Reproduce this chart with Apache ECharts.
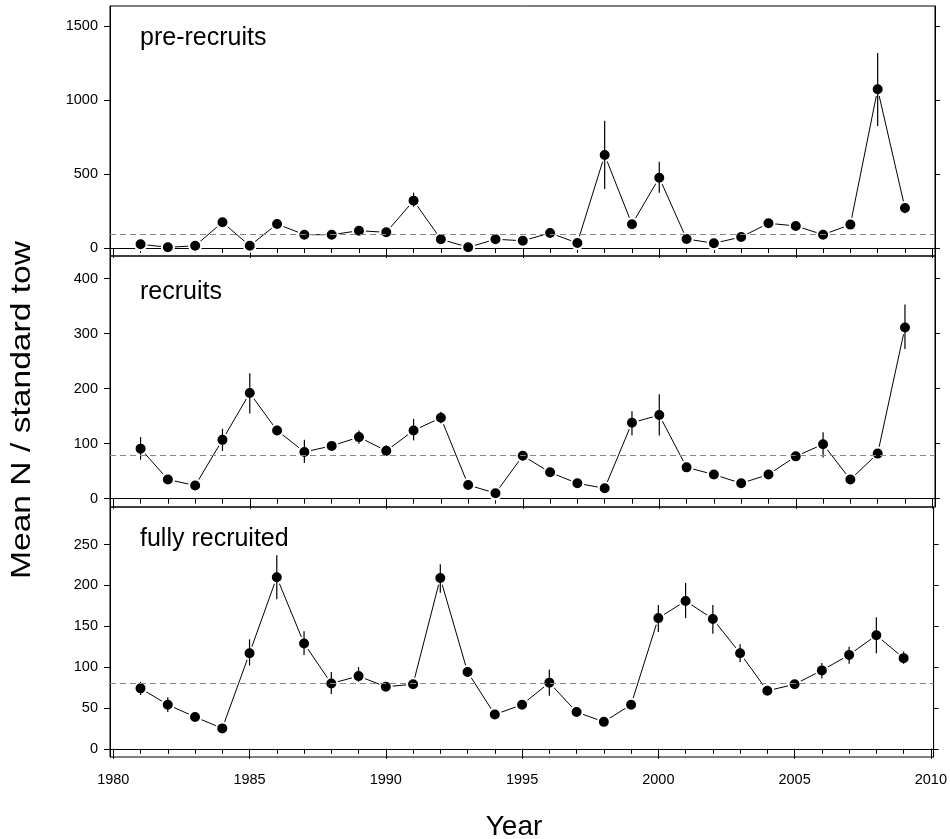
<!DOCTYPE html>
<html>
<head>
<meta charset="utf-8">
<script src="https://cdn.jsdelivr.net/npm/echarts@6/dist/echarts.min.js"></script>
<style>
  html, body { margin: 0; padding: 0; background: #fff; }
  #chart { width: 950px; height: 839px; }
</style>
</head>
<body>
<div id="chart"></div>
<script>
// survey years
const years = [1981, 1982, 1983, 1984, 1985, 1986, 1987, 1988, 1989, 1990,
  1991, 1992, 1993, 1994, 1995, 1996, 1997, 1998, 1999, 2000,
  2001, 2002, 2003, 2004, 2005, 2006, 2007, 2008, 2009];

// pre-recruits
const preMean = [25, 5, 15, 174, 15, 162, 90, 90, 117, 106, 320, 59, 5, 59, 49, 101, 34, 628, 160, 475,
  61, 32, 74, 167, 149, 90, 158, 1072, 270];
const preLow = [10, 0, 2, 154, 2, 142, 72, 74, 100, 90, 279, 44, 0, 44, 34, 85, 20, 399, 135, 374,
  46, 18, 58, 150, 132, 74, 140, 824, 234];
const preHigh = [40, 18, 30, 196, 30, 182, 108, 106, 134, 124, 374, 74, 18, 74, 64, 118, 48, 860, 185, 583,
  76, 46, 90, 184, 166, 106, 176, 1318, 297];
const preRef = 90;

// recruits
const recMean = [91, 35, 24, 107, 192, 124, 85, 96, 112, 87, 124, 147, 25, 10, 78, 48, 28, 19, 138, 152,
  57, 44, 28, 44, 77, 99, 35, 82, 311];
const recLow = [71, 30, 20, 87, 155, 115, 65, 88, 100, 78, 106, 137, 21, 7, 70, 43, 24, 16, 115, 115,
  52, 40, 24, 40, 71, 75, 31, 77, 272];
const recHigh = [112, 40, 28, 127, 228, 133, 107, 104, 124, 97, 145, 158, 29, 13, 86, 53, 32, 22, 159, 190,
  62, 48, 32, 48, 83, 121, 39, 87, 353];
const recRef = 79;

// fully recruited
const fullMean = [74, 54, 39, 25, 117, 210, 129, 80, 89, 76, 79, 209, 94, 42, 54, 81, 45, 33, 54, 160,
  181, 159, 117, 71, 79, 96, 115, 139, 111];
const fullLow = [66, 45, 36, 22, 102, 183, 115, 67, 82, 73, 76, 191, 88, 39, 50, 65, 42, 30, 50, 143,
  160, 141, 106, 67, 75, 86, 104, 117, 104];
const fullHigh = [82, 63, 42, 28, 134, 237, 144, 94, 100, 79, 82, 226, 100, 45, 58, 97, 48, 36, 58, 176,
  203, 176, 128, 75, 83, 105, 125, 161, 119];
const fullRef = 80;

const panelNames = ['pre-recruits', 'recruits', 'fully recruited'];
const yTicks = [
  [0, 500, 1000, 1500],
  [0, 100, 200, 300, 400],
  [0, 50, 100, 150, 200, 250]
];
const majorYears = [1980, 1985, 1990, 1995, 2000, 2005, 2010];
const allYears = [];
for (let y = 1980; y <= 2010; y++) allYears.push(y);

const FONT = 'Liberation Sans, Arial, Helvetica, sans-serif';

const panels = [
  { mean: preMean, low: preLow, high: preHigh, ref: preRef, min: -54, max: 1635, top: 6, height: 250, labelY: 38 },
  { mean: recMean, low: recLow, high: recHigh, ref: recRef, min: -15, max: 441, top: 256, height: 251, labelY: 292 },
  { mean: fullMean, low: fullLow, high: fullHigh, ref: fullRef, min: -10, max: 296, top: 507, height: 250, labelY: 539 }
];

const chart = echarts.init(document.getElementById('chart'));

const grids = [];
const xAxes = [];
const yAxes = [];
const series = [];
const graphics = [];

panels.forEach((p, g) => {
  const isLast = g === panels.length - 1;
  grids.push({
    left: 110, right: 15, top: p.top, height: p.height,
    show: true, borderColor: '#000', borderWidth: 1, backgroundColor: 'transparent'
  });

  // main x axis: 5-year ticks (+ labels on the bottom panel)
  xAxes.push({
    type: 'value', gridIndex: g, position: 'bottom', min: 1979.88, max: 2010.1,
    axisLine: { show: true, lineStyle: { color: '#000', width: 1 } },
    axisTick: { show: true, length: 10, customValues: majorYears, lineStyle: { color: '#000' } },
    axisLabel: {
      show: isLast, customValues: majorYears, margin: 15,
      color: '#000', fontFamily: FONT, fontSize: 14.5,
      formatter: v => String(v)
    },
    splitLine: { show: false }
  });
  // yearly minor ticks
  xAxes.push({
    type: 'value', gridIndex: g, position: 'bottom', min: 1979.88, max: 2010.1,
    axisLine: { show: false },
    axisTick: { show: true, length: 5, customValues: allYears, lineStyle: { color: '#000' } },
    axisLabel: { show: false },
    splitLine: { show: false }
  });

  yAxes.push({
    type: 'value', gridIndex: g, position: 'left', min: p.min, max: p.max,
    axisLine: { show: true, lineStyle: { color: '#000' } },
    axisTick: { show: true, length: 6, customValues: yTicks[g], lineStyle: { color: '#000' } },
    axisLabel: {
      customValues: yTicks[g], margin: 12, color: '#000',
      fontFamily: FONT, fontSize: 14.5, formatter: v => String(v)
    },
    splitLine: { show: false }
  });
  yAxes.push({
    type: 'value', gridIndex: g, position: 'right', min: p.min, max: p.max,
    axisLine: { show: true, lineStyle: { color: '#000' } },
    axisTick: { show: true, length: 5, customValues: yTicks[g], lineStyle: { color: '#000' } },
    axisLabel: { show: false },
    splitLine: { show: false }
  });

  series.push({
    type: 'line',
    xAxisIndex: 2 * g, yAxisIndex: 2 * g,
    data: years.map((yr, i) => [yr, p.mean[i]]),
    symbol: 'circle', symbolSize: 12,
    lineStyle: { color: '#000', width: 1 },
    itemStyle: { color: '#000', borderColor: '#fff', borderWidth: 2 },
    z: 3,
    animation: false,
    markLine: {
      silent: true, symbol: 'none', animation: false,
      label: { show: false },
      lineStyle: { color: '#888', type: [6, 4], width: 1 },
      data: [{ yAxis: p.ref }]
    }
  });

  series.push({
    type: 'custom',
    xAxisIndex: 2 * g, yAxisIndex: 2 * g,
    data: years.map((yr, i) => [yr, p.low[i], p.high[i]]),
    encode: { x: 0, y: [1, 2] },
    z: 4,
    animation: false,
    renderItem: (params, api) => {
      const a = api.coord([api.value(0), api.value(1)]);
      const b = api.coord([api.value(0), api.value(2)]);
      return {
        type: 'line',
        shape: { x1: a[0], y1: a[1], x2: b[0], y2: b[1] },
        style: { stroke: '#000', lineWidth: 1.2 }
      };
    }
  });

  graphics.push({
    type: 'text', x: 140, y: p.labelY,
    style: {
      text: panelNames[g], fill: '#000', font: '25px ' + FONT,
      textAlign: 'left', textVerticalAlign: 'middle'
    }
  });
});

// axis titles
graphics.push({
  type: 'text', x: 514, y: 827,
  style: { text: 'Year', fill: '#000', font: '28px ' + FONT, textAlign: 'center', textVerticalAlign: 'middle' }
});
graphics.push({
  type: 'text', x: 22, y: 410, rotation: Math.PI / 2, scaleX: 1.2,
  style: { text: 'Mean N / standard tow', fill: '#000', font: '28px ' + FONT, textAlign: 'center', textVerticalAlign: 'middle' }
});

chart.setOption({
  animation: false,
  backgroundColor: '#fff',
  grid: grids,
  xAxis: xAxes,
  yAxis: yAxes,
  series: series,
  graphic: graphics
});

window.addEventListener('resize', () => chart.resize());
</script>
</body>
</html>
